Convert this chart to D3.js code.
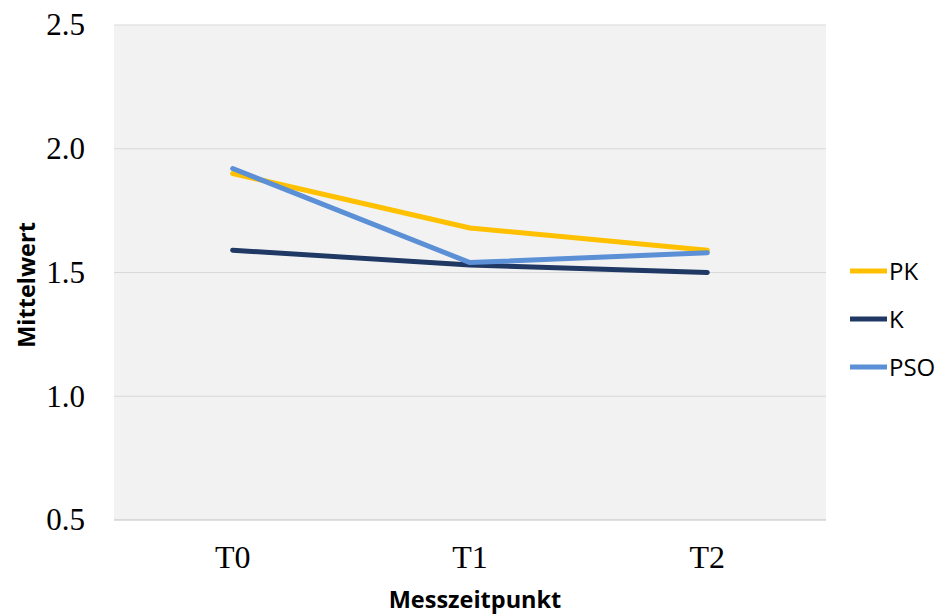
<!DOCTYPE html>
<html>
<head>
<meta charset="utf-8">
<script src="https://cdn.jsdelivr.net/npm/d3@7"></script>
<style>
  html, body { margin: 0; padding: 0; background: #ffffff; }
  svg { display: block; }
</style>
</head>
<body>
<svg id="chart" width="943" height="614"></svg>
<script>
// Measurement points
const categories = ["T0", "T1", "T2"];

// Mean values per group
const seriesNames = ["PK", "K", "PSO"];
const valuesPK  = [1.90, 1.68, 1.59];
const valuesK   = [1.59, 1.53, 1.50];
const valuesPSO = [1.92, 1.54, 1.58];

// Y axis ticks
const yTicks = [0.5, 1.0, 1.5, 2.0, 2.5];

const seriesColors = ["#FFC000", "#1F3864", "#5B8FD6"];

const series = seriesNames.map((name, i) => ({
  name,
  values: [valuesPK, valuesK, valuesPSO][i],
  color: seriesColors[i]
}));

const svg = d3.select("#chart");
const plot = { left: 114, right: 826, top: 25, bottom: 520 };

const x = d3.scaleBand()
  .domain(categories)
  .range([plot.left, plot.right]);

const y = d3.scaleLinear()
  .domain([0.5, 2.5])
  .range([plot.bottom, plot.top]);

const serif = "'Liberation Serif', 'Times New Roman', serif";
const sans = "'Open Sans', 'Liberation Sans', sans-serif";

// Plot area background
svg.append("rect")
  .attr("x", plot.left)
  .attr("y", plot.top)
  .attr("width", plot.right - plot.left)
  .attr("height", plot.bottom - plot.top)
  .attr("fill", "#F2F2F2");

// Horizontal gridlines
svg.append("g")
  .selectAll("line")
  .data(yTicks)
  .join("line")
  .attr("x1", plot.left)
  .attr("x2", plot.right)
  .attr("y1", d => y(d))
  .attr("y2", d => y(d))
  .attr("stroke", (d, i) => i === 0 ? "#BFBFBF" : "#D9D9D9")
  .attr("stroke-width", 1.2);

// Y axis labels
const yAxis = d3.axisLeft(y).tickValues(yTicks).tickFormat(d3.format(".1f")).tickSize(0).tickPadding(29);
const gy = svg.append("g").attr("transform", `translate(${plot.left},0)`).call(yAxis);
gy.select(".domain").remove();
gy.selectAll("text")
  .attr("font-family", serif)
  .attr("font-size", 31)
  .attr("fill", "#000");

// X axis labels
const xAxis = d3.axisBottom(x).tickSize(0).tickPadding(25);
const gx = svg.append("g").attr("transform", `translate(0,${plot.bottom})`).call(xAxis);
gx.select(".domain").remove();
gx.selectAll("text")
  .attr("font-family", serif)
  .attr("font-size", 32)
  .attr("dy", 0)
  .attr("fill", "#000");
gx.selectAll("text").attr("y", 48);

// Series lines
const line = d3.line()
  .x((d, i) => x(categories[i]) + x.bandwidth() / 2)
  .y(d => y(d));

svg.append("g")
  .selectAll("path")
  .data(series)
  .join("path")
  .attr("d", d => line(d.values))
  .attr("fill", "none")
  .attr("stroke", d => d.color)
  .attr("stroke-width", 5)
  .attr("stroke-linecap", "round")
  .attr("stroke-linejoin", "round");

// Axis titles
svg.append("text")
  .attr("x", 475)
  .attr("y", 608)
  .attr("text-anchor", "middle")
  .attr("font-family", sans)
  .attr("font-weight", "bold")
  .attr("font-size", 23.5)
  .attr("fill", "#000")
  .text("Messzeitpunkt");

svg.append("text")
  .attr("transform", `translate(35,285) rotate(-90)`)
  .attr("text-anchor", "middle")
  .attr("font-family", sans)
  .attr("font-weight", "bold")
  .attr("font-size", 23.5)
  .attr("fill", "#000")
  .text("Mittelwert");

// Legend
const legendY = [271, 319, 367];
const legend = svg.append("g")
  .selectAll("g")
  .data(series)
  .join("g")
  .attr("transform", (d, i) => `translate(850,${legendY[i]})`);

legend.append("line")
  .attr("x1", 0).attr("x2", 37)
  .attr("y1", 0).attr("y2", 0)
  .attr("stroke", d => d.color)
  .attr("stroke-width", 5);

legend.append("text")
  .attr("x", 39)
  .attr("y", 0)
  .attr("dy", "0.36em")
  .attr("font-family", sans)
  .attr("font-size", 24)
  .attr("fill", "#000")
  .text(d => d.name);
</script>
</body>
</html>
